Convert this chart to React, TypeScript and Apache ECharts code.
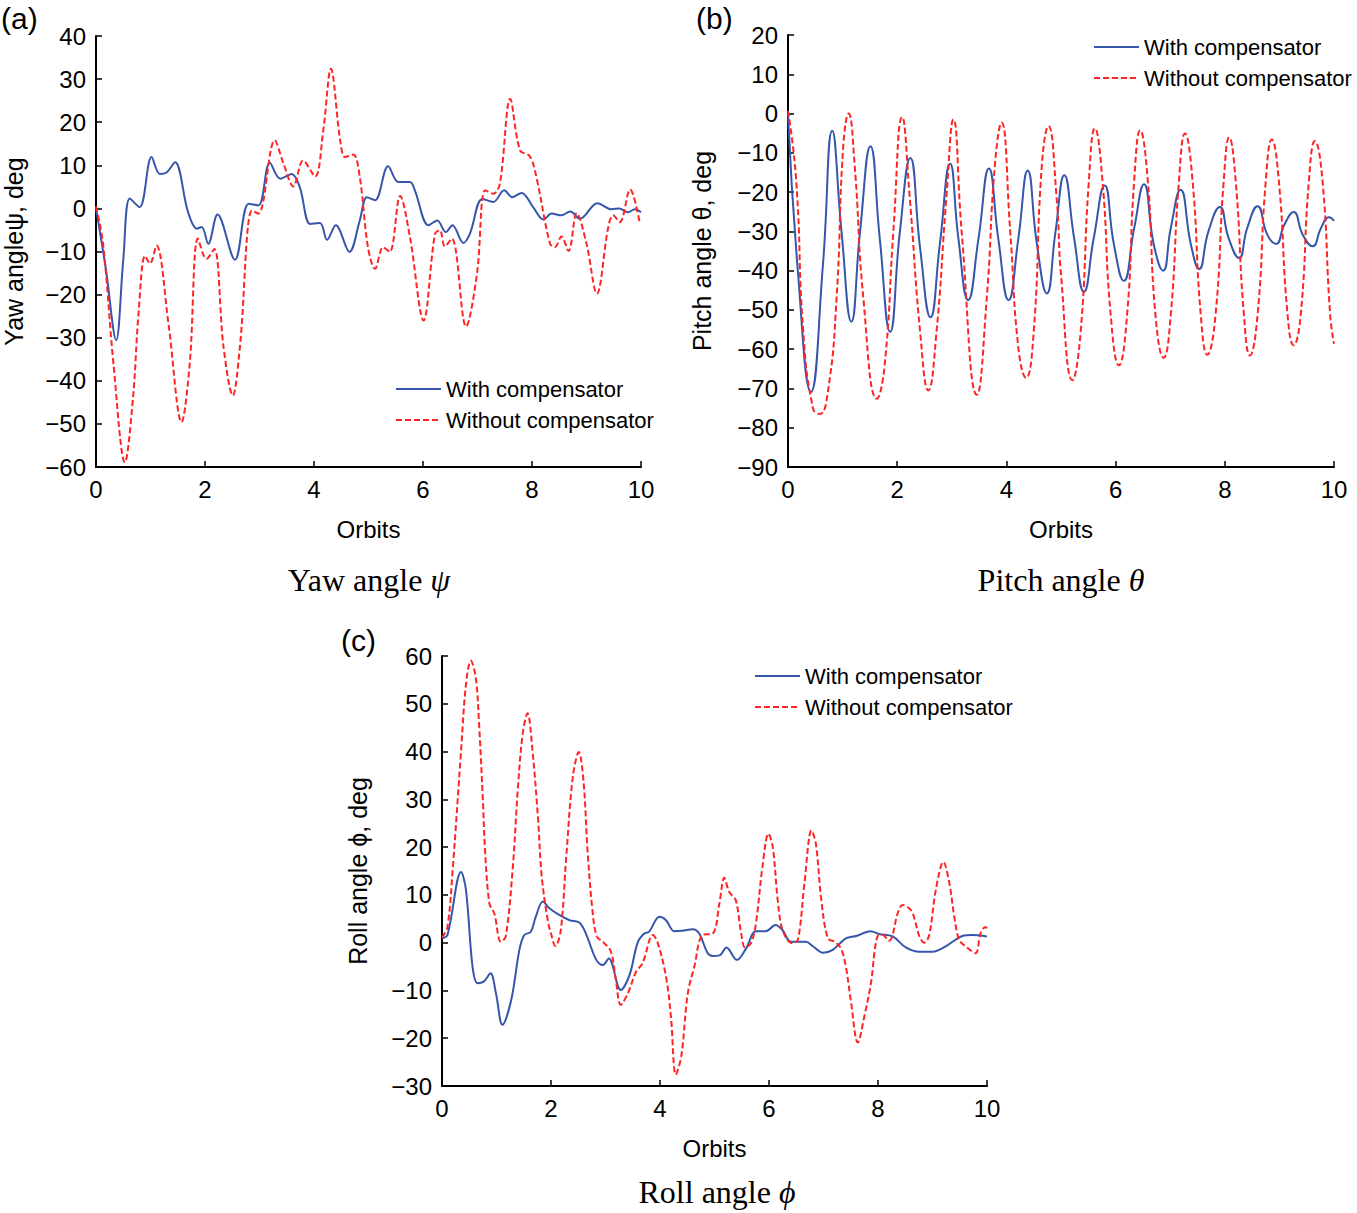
import * as echarts from "echarts";
import { useEffect, useRef } from "react";

// x tick labels (orbits)
const orbitTicks = [0, 2, 4, 6, 8, 10];

// (a) yaw angle, deg : [orbit, value]
const yawWith = [
  [0, 0], [0.18, -14], [0.37, -30.6], [0.5, -12], [0.62, 2.3], [0.8, 0.3], [1.02, 11.9], [1.17, 8],
  [1.3, 8.4], [1.45, 10.7], [1.69, -0.9], [1.85, -4.7], [1.94, -4.3], [2.06, -8.2], [2.23, -1.4],
  [2.55, -11.9], [2.8, 1.1], [2.98, 0.7], [3.19, 10.6], [3.38, 6.9], [3.59, 8], [3.74, 4.9],
  [3.93, -3.6], [4.11, -3.4], [4.24, -7.3], [4.4, -3.9], [4.65, -10.1], [4.84, -2.8], [4.97, 2.6],
  [5.12, 1.9], [5.36, 9.8], [5.55, 6.1], [5.76, 6.1], [5.85, 4.2], [6.1, -3.9], [6.26, -2.8],
  [6.42, -5.5], [6.54, -3.9], [6.74, -8], [6.86, -5.9], [7.09, 2.2], [7.29, 1.5], [7.49, 4.2],
  [7.64, 2.6], [7.81, 3.6], [8.02, 0.3], [8.21, -2.6], [8.36, -1.2], [8.54, -1.6], [8.7, -0.7],
  [8.88, -2.4], [9.2, 1.2], [9.46, -0.2], [9.6, 0], [9.76, -0.9], [9.89, -0.2], [10, -0.9],
];
const yawWithout = [
  [0, 0.5], [0.13, -8.2], [0.32, -36], [0.53, -58.9], [0.68, -43.8], [0.78, -24.4], [0.9, -11],
  [0.99, -12.8], [1.11, -8.6], [1.33, -26.8], [1.57, -49.6], [1.72, -36], [1.87, -7], [2.03, -11.7],
  [2.17, -9.4], [2.34, -32.2], [2.51, -43.4], [2.64, -32.2], [2.86, -0.5], [2.98, -1.2], [3.28, 15.8],
  [3.44, 10.4], [3.62, 5.1], [3.8, 11.1], [4.02, 7.4], [4.17, 18.1], [4.31, 32.4], [4.48, 15.8],
  [4.57, 11.9], [4.72, 12.5], [4.84, 7.3], [4.99, -9], [5.12, -14], [5.27, -9], [5.39, -10.1],
  [5.58, 2.9], [5.76, -6.6], [6.01, -26], [6.22, -5.9], [6.31, -5.1], [6.4, -8.8], [6.53, -7],
  [6.79, -27.4], [6.99, -15.2], [7.14, 4.2], [7.29, 3.4], [7.41, 5.7], [7.6, 25.4], [7.78, 13.5],
  [7.96, 12.1], [8.08, 7.3], [8.33, -8.2], [8.42, -9], [8.54, -6.5], [8.67, -9.9], [8.82, -1.1],
  [9.0, -8.2], [9.19, -19.8], [9.4, -4.3], [9.49, -1.6], [9.61, -3.2], [9.8, 4.4], [9.98, -3.6],
];

// (b) pitch angle, deg
const pitchWith = [
  [0, 0], [0.18, -40], [0.42, -70.9], [0.64, -38.5], [0.81, -4.4], [0.98, -30], [1.16, -53],
  [1.32, -30], [1.51, -8.3], [1.68, -31.7], [1.87, -55.6], [2.05, -30], [2.24, -11.3], [2.42, -34.3],
  [2.61, -51.9], [2.78, -33.4], [2.97, -12.8], [3.12, -31.7], [3.3, -47.5], [3.49, -31.7], [3.68, -14],
  [3.85, -31.7], [4.04, -47.5], [4.22, -31.7], [4.39, -14.5], [4.56, -33.4], [4.74, -45.8], [4.9, -30],
  [5.06, -15.7], [5.24, -31.7], [5.42, -45.4], [5.6, -31.7], [5.8, -18.3], [5.97, -33.4], [6.15, -42.6],
  [6.34, -29.2], [6.52, -18], [6.7, -33.4], [6.87, -40], [7.01, -29.2], [7.19, -19.4], [7.38, -33.4],
  [7.53, -39.6], [7.7, -30], [7.91, -23.8], [8.07, -31.7], [8.26, -36.8], [8.41, -29.2], [8.6, -23.6],
  [8.78, -30.9], [8.94, -33.2], [9.09, -28.3], [9.26, -25.1], [9.43, -30.9], [9.61, -33.8],
  [9.76, -29.2], [9.91, -26.4], [10, -27.3],
];
const pitchWithout = [
  [0, 0.7], [0.15, -17], [0.28, -55.6], [0.46, -75.2], [0.58, -76.5], [0.73, -70.9], [0.89, -47],
  [1.01, -8.7], [1.11, 0], [1.22, -13], [1.38, -47], [1.63, -72.6], [1.77, -64.1], [1.93, -30],
  [2.09, -0.9], [2.23, -21.5], [2.42, -55.6], [2.57, -70.5], [2.72, -55.6], [2.9, -21.5], [3.03, -1.5],
  [3.18, -30], [3.46, -71.6], [3.64, -47], [3.79, -13], [3.91, -2.3], [4.07, -30], [4.22, -59.8],
  [4.36, -67.3], [4.5, -55.6], [4.65, -13], [4.77, -3.2], [4.92, -21.5], [5.0, -41], [5.21, -67.9],
  [5.36, -55.6], [5.51, -17.2], [5.62, -3.8], [5.76, -17.2], [5.91, -51.3], [6.06, -64.1], [6.21, -51.3],
  [6.34, -17.2], [6.45, -4.3], [6.59, -17.2], [6.73, -51.3], [6.88, -62.2], [7.01, -51.3], [7.16, -17.2],
  [7.27, -5.1], [7.41, -17.2], [7.56, -51.3], [7.68, -61.4], [7.83, -51.3], [7.98, -17.2], [8.08, -6.1],
  [8.2, -17.2], [8.35, -51.3], [8.46, -61.6], [8.6, -51.3], [8.75, -17.2], [8.86, -6.6], [8.99, -17.2],
  [9.15, -51.3], [9.26, -59], [9.39, -51.3], [9.54, -17.2], [9.65, -7], [9.79, -17.2], [9.93, -51.3],
  [10, -58.6],
];

// (c) roll angle, deg
const rollWith = [
  [0, 0.9], [0.1, 1.6], [0.35, 14.8], [0.44, 11], [0.56, -5], [0.65, -8.5], [0.77, -8.1], [0.89, -6.4],
  [0.99, -10.6], [1.11, -17.2], [1.27, -12], [1.42, -1.5], [1.51, 1.6], [1.63, 2.3], [1.72, 5.4],
  [1.85, 8.6], [1.97, 7.2], [2.15, 5.8], [2.34, 4.7], [2.52, 4.2], [2.64, 1.9], [2.83, -3.6],
  [2.95, -4.7], [3.06, -3.3], [3.28, -9.9], [3.44, -6.8], [3.59, 0], [3.71, 1.9], [3.8, 2.3],
  [3.99, 5.4], [4.11, 4.7], [4.26, 2.4], [4.41, 2.5], [4.6, 2.8], [4.72, 1.9], [4.87, -2.1],
  [4.97, -2.8], [5.1, -2.6], [5.22, -1], [5.41, -3.6], [5.58, -1.2], [5.76, 2.4], [5.94, 2.4],
  [6.12, 3.7], [6.25, 2.6], [6.4, 0.2], [6.68, 0.2], [6.8, -0.7], [6.99, -2.1], [7.17, -1.5],
  [7.41, 0.9], [7.6, 1.4], [7.86, 2.4], [8.02, 1.8], [8.27, 1.3], [8.51, -1], [8.76, -1.9], [9.0, -1.9],
  [9.25, -0.7], [9.55, 1.4], [9.72, 1.6], [10, 1.3],
];
const rollWithout = [
  [0, 1.1], [0.1, 3.3], [0.2, 15.9], [0.35, 40.2], [0.44, 54.1], [0.53, 59], [0.62, 55.5], [0.68, 45.8],
  [0.75, 29.8], [0.79, 19.3], [0.87, 8.2], [0.96, 6.1], [1.08, 0.2], [1.17, 1.3], [1.3, 15.9],
  [1.39, 31.9], [1.48, 43.7], [1.57, 48], [1.66, 40.2], [1.76, 26.3], [1.83, 13.8], [1.94, 4.7],
  [2.0, 1.9], [2.08, -0.7], [2.18, 2.6], [2.28, 18], [2.4, 34.7], [2.51, 39.9], [2.6, 33.3],
  [2.67, 19.3], [2.76, 6.8], [2.84, 1.3], [2.95, 0.2], [3.1, -1.9], [3.19, -7.8], [3.28, -13],
  [3.41, -10.6], [3.56, -6.1], [3.68, -4.3], [3.87, 1.6], [3.96, -0.1], [4.11, -7.1], [4.2, -15.4],
  [4.29, -27.6], [4.39, -23.8], [4.51, -10.6], [4.63, -5], [4.78, 1.6], [4.97, 1.9], [5.09, 8.2],
  [5.18, 13.6], [5.27, 10.6], [5.39, 8.9], [5.49, 1.9], [5.56, -1], [5.67, -0.1], [5.76, 4],
  [5.88, 15.9], [5.99, 22.8], [6.07, 20], [6.16, 8.9], [6.25, 2.6], [6.42, -0.1], [6.53, 0.6],
  [6.65, 12.4], [6.78, 23.5], [6.86, 20.7], [6.96, 8.9], [7.08, 0.9], [7.2, 0.2], [7.32, -1.2],
  [7.41, -5], [7.5, -12], [7.63, -20.9], [7.75, -15.4], [7.87, -8.5], [7.99, 1.3], [8.09, 1.6],
  [8.2, 0.4], [8.26, 1.3], [8.36, 6.1], [8.45, 7.9], [8.57, 7.2], [8.64, 6.1], [8.76, 1.3], [8.85, 0],
  [8.94, 1.6], [9.06, 11], [9.2, 16.9], [9.31, 12.4], [9.4, 5.4], [9.49, 0.6], [9.61, -0.8],
  [9.79, -2.2], [9.88, 1.9], [9.97, 3.3], [10, 3],
];

const WITH = "With compensator";
const WITHOUT = "Without compensator";
const SANS = "Liberation Sans, Arial, sans-serif";
const SERIF = "Liberation Serif, Times New Roman, serif";
const BLUE = "#3656ab";
const RED = "#ff2424";

const minus = (v: number) => (v < 0 ? "\u2212" + Math.abs(v) : String(v));

const xAxisFor = (gridIndex: number) => ({
  type: "value",
  gridIndex,
  min: orbitTicks[0],
  max: orbitTicks[orbitTicks.length - 1],
  interval: 2,
  name: "Orbits",
  nameLocation: "middle",
  nameGap: 50,
  nameTextStyle: { fontSize: 24, fontFamily: SANS, color: "#000" },
  axisLine: { onZero: false, lineStyle: { color: "#000", width: 2 } },
  axisTick: { inside: true, length: 6, lineStyle: { color: "#000", width: 1.5 } },
  axisLabel: { fontSize: 24, fontFamily: SANS, color: "#000", margin: 10 },
  splitLine: { show: false },
});

const yAxisFor = (gridIndex: number, min: number, max: number, name: string, nameGap: number) => ({
  type: "value",
  gridIndex,
  min,
  max,
  interval: 10,
  name,
  nameLocation: "middle",
  nameGap,
  nameTextStyle: { fontSize: 25, fontFamily: SANS, color: "#000" },
  axisLine: { show: true, onZero: false, lineStyle: { color: "#000", width: 2 } },
  axisTick: { show: true, inside: true, length: 6, lineStyle: { color: "#000", width: 1.5 } },
  axisLabel: { fontSize: 24, fontFamily: SANS, color: "#000", margin: 10, formatter: minus },
  splitLine: { show: false },
});

const seriesFor = (idx: number, withData: number[][], withoutData: number[][], smooth: number) => [
  {
    name: WITH,
    type: "line",
    xAxisIndex: idx,
    yAxisIndex: idx,
    data: withData,
    smooth,
    symbol: "none",
    lineStyle: { color: BLUE, width: 2 },
    itemStyle: { color: BLUE },
  },
  {
    name: WITHOUT,
    type: "line",
    xAxisIndex: idx,
    yAxisIndex: idx,
    data: withoutData,
    smooth,
    symbol: "none",
    lineStyle: { color: RED, width: 2, type: [6, 3] },
    itemStyle: { color: RED },
  },
];

const legendAt = (left: number, top: number) => ({
  orient: "vertical",
  left,
  top,
  padding: 0,
  data: [WITH, WITHOUT],
  itemWidth: 45,
  itemHeight: 14,
  itemGap: 9,
  selectedMode: false,
  itemStyle: { opacity: 0 },
  textStyle: { fontSize: 22, fontFamily: SANS, color: "#000", lineHeight: 22 },
});

const label = (text: string, x: number, y: number) => ({
  type: "text",
  x,
  y,
  style: { text, fontSize: 30, fontFamily: SANS, fill: "#000", align: "left", verticalAlign: "middle" },
});

const caption = (text: string, greek: string, x: number, y: number) => ({
  type: "text",
  x,
  y,
  style: {
    text: text + " {g|" + greek + "}",
    fontSize: 32,
    fontFamily: SERIF,
    fill: "#000",
    align: "center",
    verticalAlign: "middle",
    rich: { g: { fontSize: 32, fontFamily: SERIF, fontStyle: "italic", fill: "#000" } },
  },
});

export default function App() {
  const chartRef = useRef<HTMLDivElement | null>(null);

  useEffect(() => {
    if (!chartRef.current) return;
    const chart = echarts.init(chartRef.current, undefined, { renderer: "svg" });

    chart.setOption({
      animation: false,
      backgroundColor: "#fff",
      grid: [
        { left: 96, top: 36, width: 545, height: 431 },
        { left: 788, top: 35, width: 546, height: 432 },
        { left: 442, top: 656, width: 545, height: 430 },
      ],
      xAxis: [xAxisFor(0), xAxisFor(1), xAxisFor(2)],
      yAxis: [
        yAxisFor(0, -60, 40, "Yaw angle\u03c8, deg", 70),
        yAxisFor(1, -90, 20, "Pitch angle \u03b8, deg", 74),
        yAxisFor(2, -30, 60, "Roll angle \u03d5, deg", 72),
      ],
      legend: [legendAt(395, 378), legendAt(1093, 36), legendAt(754, 665)],
      series: [
        ...seriesFor(0, yawWith, yawWithout, 0.35),
        ...seriesFor(1, pitchWith, pitchWithout, 0.5),
        ...seriesFor(2, rollWith, rollWithout, 0.35),
      ],
      graphic: [
        label("(a)", 1, 18),
        label("(b)", 696, 18),
        label("(c)", 341, 640),
        caption("Yaw angle", "\u03c8", 369, 580),
        caption("Pitch angle", "\u03b8", 1061, 580),
        caption("Roll angle", "\u03d5", 717, 1192),
      ],
    });

    return () => {
      chart.dispose();
    };
  }, []);

  return (
    <div
      ref={chartRef}
      style={{ position: "fixed", left: 0, top: 0, width: 1357, height: 1213 }}
    />
  );
}
